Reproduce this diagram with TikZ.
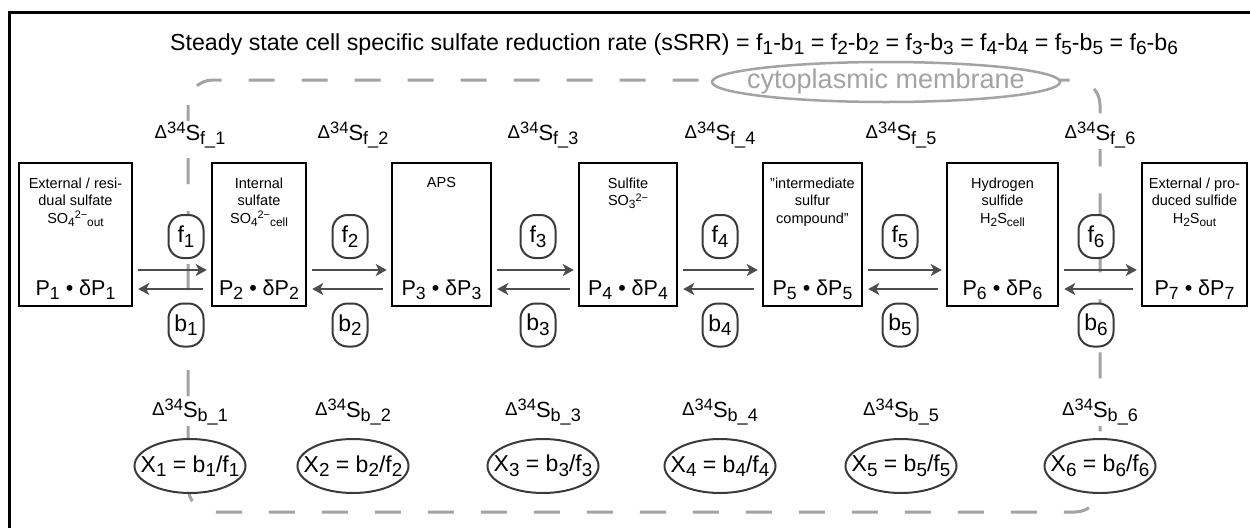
\documentclass[tikz,border=0pt]{standalone}
\usepackage{fontspec}
\usepackage{graphicx}
\setmainfont{Liberation Sans}
\usetikzlibrary{arrows.meta,shapes.geometric,calc}
\definecolor{memgray}{HTML}{A3A3A3}
\definecolor{arrgray}{HTML}{4D4D4D}
\definecolor{ovgray}{HTML}{3A3A3A}
\newcommand{\lo}[1]{\raisebox{-0.2em}{\scalebox{0.82}{#1}}}
\newcommand{\hi}[1]{\raisebox{0.3em}{\scalebox{0.75}{#1}}}
\newcommand{\dlt}{\raisebox{0.08em}{\scalebox{0.85}{Δ}}}
\begin{document}
\begin{tikzpicture}[x=1pt,y=-1pt,
  box/.style={draw=black,line width=2.5pt,minimum height=143pt,inner sep=0pt},
  boxtxt/.style={anchor=north,align=center,inner sep=0pt,font=\fontsize{14.5}{17.5}\selectfont},
  plab/.style={anchor=base,inner sep=0pt,font=\fontsize{21.5}{26}\selectfont},
  rate/.style={draw=ovgray,line width=2pt,fill=white,rounded corners=15pt,minimum width=35pt,minimum height=43pt,inner sep=0pt,font=\fontsize{23}{26}\selectfont},
  dlab/.style={fill=white,inner sep=1pt,anchor=base,font=\fontsize{22}{26}\selectfont},
  xov/.style={ellipse,draw=ovgray,line width=2pt,fill=white,minimum width=111pt,minimum height=54pt,inner sep=0pt,font=\fontsize{23}{26}\selectfont},
  fwd/.style={draw=arrgray,line width=2.5pt,-{Stealth[length=11pt,width=12pt,inset=3pt]}},
  membrane/.style={draw=memgray,line width=3pt,dash pattern=on 26pt off 27pt,rounded corners=25pt},
  memov/.style={ellipse,draw=memgray,line width=2.5pt,fill=white,minimum width=348pt,minimum height=40pt,inner sep=0pt,text=memgray,font=\fontsize{27}{30}\selectfont},
]
\useasboundingbox (0,0) rectangle (1250,528);
\fill[white] (0,0) rectangle (1250,528);
% frame
\draw[line width=3pt] (9,528) -- (9,12) -- (1250,12);
% title
\node[anchor=base,inner sep=0pt,font=\fontsize{23.2}{26}\selectfont] (title) at (674,50)
 {Steady state cell specific sulfate reduction rate (sSRR) = f\lo{1}-b\lo{1} = f\lo{2}-b\lo{2} = f\lo{3}-b\lo{3} = f\lo{4}-b\lo{4} = f\lo{5}-b\lo{5} = f\lo{6}-b\lo{6}};
% membrane
\draw[membrane] (188,80) rectangle (1100,512);
\node[memov] (mem) at (886,82) {\makebox[0pt]{cytoplasmic membrane}};
% boxes
\foreach \i/\cx/\w in {1/75.5/113, 2/259/94, 3/441.5/99, 4/628/98, 5/812.5/99, 6/1002.5/111, 7/1194.5/105}{
  \node[box,minimum width=\w pt] (P\i) at (\cx,234.5) {};
  \node[plab] (PL\i) at (\cx,295) {P\lo{\i} • δP\lo{\i}};
}
\node[boxtxt] (T1) at (75.5,177.5) {External / resi-\\dual sulfate\\SO\lo{4}\hi{2−}\lo{out}};
\node[boxtxt] (T2) at (259,177.5) {Internal\\sulfate\\SO\lo{4}\hi{2−}\lo{cell}};
\node[boxtxt] (T3) at (441.5,177.5) {APS};
\node[boxtxt] (T4) at (628,177.5) {Sulfite\\SO\lo{3}\hi{2−}};
\node[boxtxt] (T5) at (812.5,177.5) {"intermediate\\sulfur\\compound"};
\node[boxtxt] (T6) at (1002.5,177.5) {Hydrogen\\sulfide\\H\lo{2}S\lo{cell}};
\node[boxtxt] (T7) at (1194.5,177.5) {External / pro-\\duced sulfide\\H\lo{2}S\lo{out}};
% steps
\foreach \i/\fx/\dx in {1/186/190, 2/350/353, 3/538/543, 4/720/720, 5/900/901, 6/1096/1100}{
  \pgfmathtruncatemacro{\j}{\i+1}
  \draw[fwd] ([shift={(5,35.5)}]P\i.east) -- ([shift={(-4,35.5)}]P\j.west);
  \draw[fwd] ([shift={(-8,54.5)}]P\j.west) -- ([shift={(5,54.5)}]P\i.east);
  \node[rate] (f\i) at (\fx,236.5) {f\lo{\i}};
  \node[rate] (b\i) at (\fx,325) {b\lo{\i}};
  \node[dlab] (df\i) at (\dx,140) {\dlt\hi{34}S\lo{f\_\i}};
  \node[dlab] (db\i) at (\dx,417) {\dlt\hi{34}S\lo{b\_\i}};
  \node[xov] (X\i) at (\dx,466) {\makebox[0pt]{X\lo{\i} = b\lo{\i}/f\lo{\i}}};
}
\end{tikzpicture}
\end{document}
